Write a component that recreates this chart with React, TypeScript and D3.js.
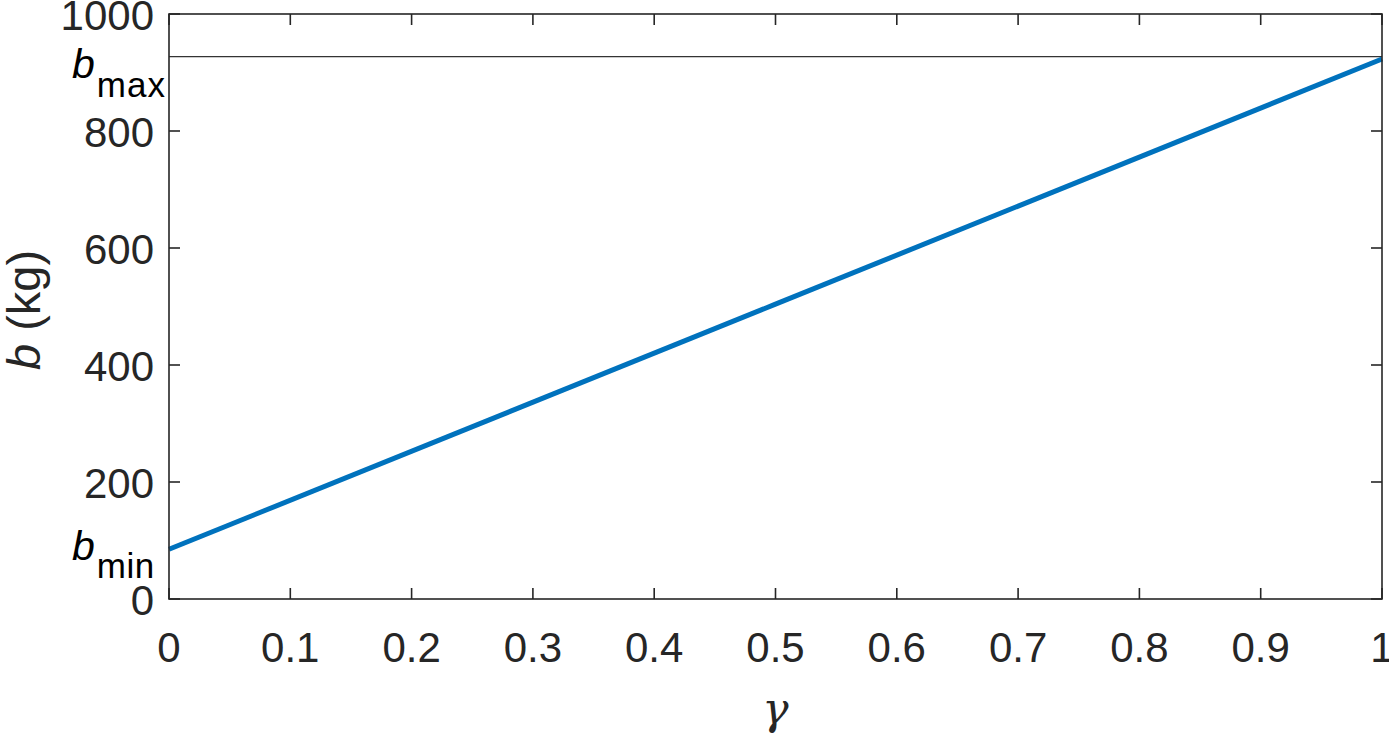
import * as d3 from 'd3';

// data
const gammaVals = [0, 0.5, 1];
const bVals = [85, 504, 923];
const bMax = 927;
const bMin = 85;
const xTicks = [0, 0.1, 0.2, 0.3, 0.4, 0.5, 0.6, 0.7, 0.8, 0.9, 1];
const xTickLabels = ['0', '0.1', '0.2', '0.3', '0.4', '0.5', '0.6', '0.7', '0.8', '0.9', '1'];
const yTicks = [0, 200, 400, 600, 800, 1000];
const yTickLabels = ['0', '200', '400', '600', '800', '1000'];

const W = 1389;
const H = 740;
const left = 169, right = 1382, top = 14, bottom = 599;
const axisColor = '#262626';
const font = 'Arial, "Liberation Sans", Helvetica, sans-serif';

export default function App() {
    const x = d3.scaleLinear().domain([0, 1]).range([left, right]);
    const y = d3.scaleLinear().domain([0, 1000]).range([bottom, top]);

    const line = d3.line<number>()
        .x((_, i) => x(gammaVals[i]))
        .y(d => y(d));

    const tickLen = 11;

    return (
        <svg width={W} height={H} style={{ position: 'absolute', left: 0, top: 0, background: '#fff' }}>
            {/* bmax reference line */}
            <line x1={left} x2={right} y1={y(bMax)} y2={y(bMax)} stroke="#000" strokeWidth={1} />

            {/* data line */}
            <path d={line(bVals) || ''} fill="none" stroke="#0072BD" strokeWidth={5} />

            {/* box */}
            <rect x={left} y={top} width={right - left} height={bottom - top}
                fill="none" stroke={axisColor} strokeWidth={1.6} />

            {/* x ticks */}
            {xTicks.map((t, i) => (
                <g key={'x' + i}>
                    <line x1={x(t)} x2={x(t)} y1={bottom} y2={bottom - tickLen} stroke={axisColor} strokeWidth={1.6} />
                    <line x1={x(t)} x2={x(t)} y1={top} y2={top + tickLen} stroke={axisColor} strokeWidth={1.6} />
                    <text x={x(t)} y={662} textAnchor="middle" fontFamily={font} fontSize={42} fill={axisColor}>
                        {xTickLabels[i]}
                    </text>
                </g>
            ))}

            {/* y ticks */}
            {yTicks.map((t, i) => (
                <g key={'y' + i}>
                    <line x1={left} x2={left + tickLen} y1={y(t)} y2={y(t)} stroke={axisColor} strokeWidth={1.6} />
                    <line x1={right} x2={right - tickLen} y1={y(t)} y2={y(t)} stroke={axisColor} strokeWidth={1.6} />
                    <text x={154} y={y(t) + 16} textAnchor="end" fontFamily={font} fontSize={42} fill={axisColor}>
                        {yTickLabels[i]}
                    </text>
                </g>
            ))}

            {/* b_max / b_min labels */}
            <text x={72} y={y(bMax) + 21} fontFamily={font} fill="#000">
                <tspan fontStyle="italic" fontSize={41}>b</tspan>
                <tspan dx={2} dy={19} fontSize={35} letterSpacing={1}>max</tspan>
            </text>
            <text x={72} y={y(bMin) + 11} fontFamily={font} fill="#000">
                <tspan fontStyle="italic" fontSize={41}>b</tspan>
                <tspan dx={2} dy={18} fontSize={35} letterSpacing={0.5}>min</tspan>
            </text>

            {/* axis labels */}
            <text transform={`translate(40,${(248 + 372) / 2}) rotate(-90)`} textAnchor="middle"
                fontFamily={font} fontSize={47} fill={axisColor}>
                <tspan fontStyle="italic">b</tspan> (kg)
            </text>
            <text x={(left + right) / 2} y={724} textAnchor="middle"
                fontFamily='"DejaVu Serif", serif' fontStyle="italic" fontSize={44} fill={axisColor}>
                γ
            </text>
        </svg>
    );
}
